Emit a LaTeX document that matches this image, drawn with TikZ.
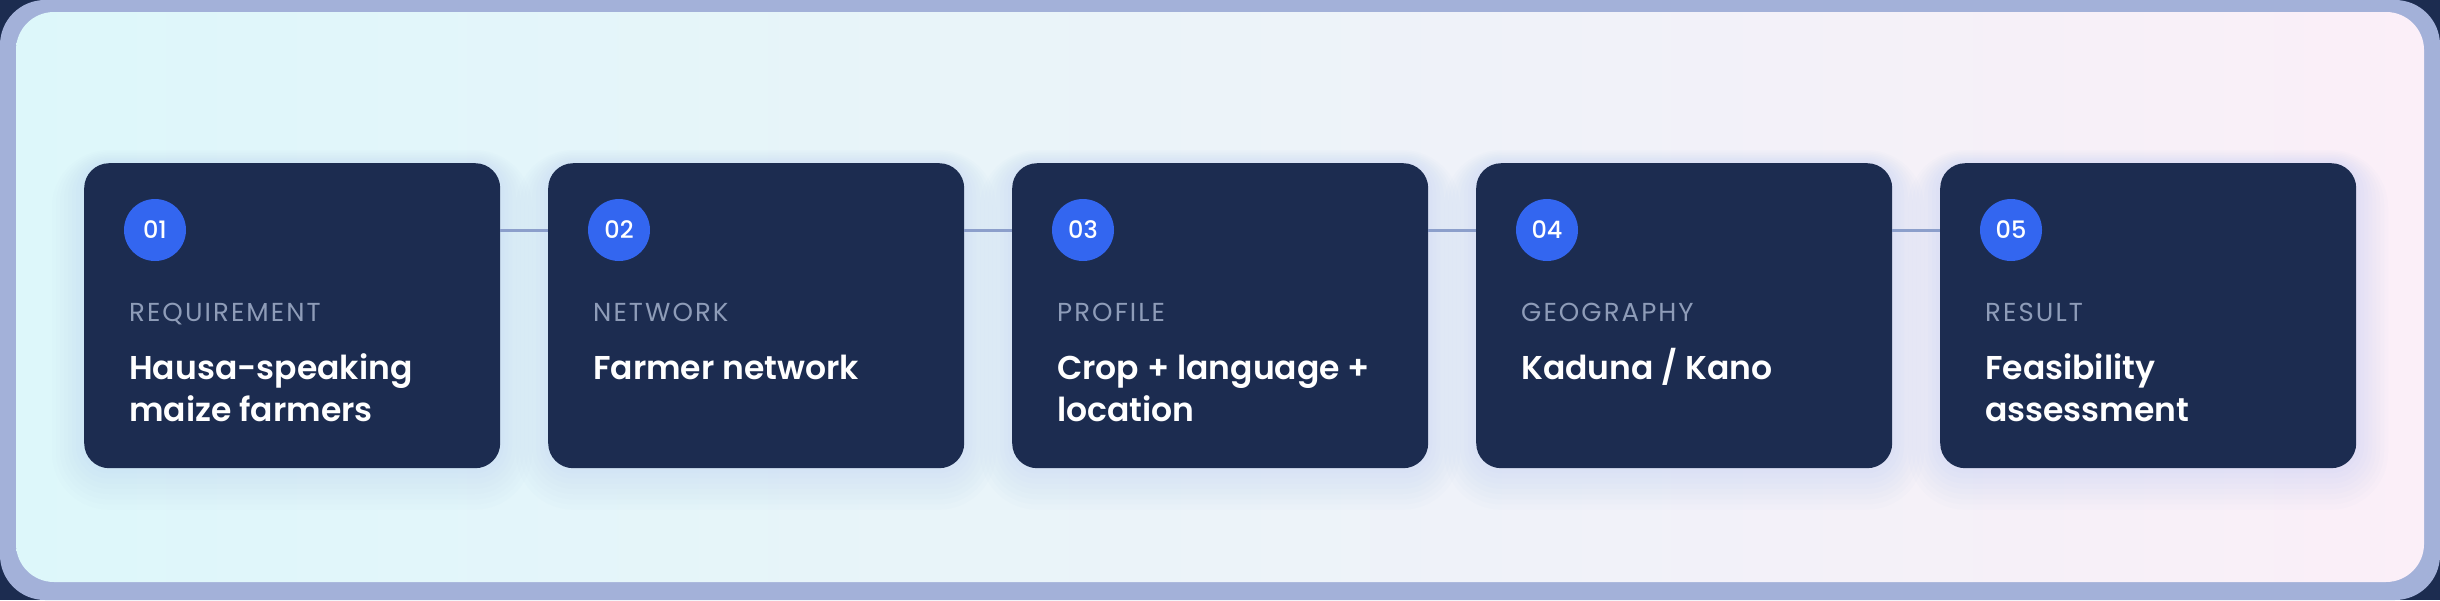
\documentclass[tikz,border=0pt]{standalone}
\usepackage{fontspec}
\setmainfont{Poppins}
\newfontfamily\tagfont[LetterSpace=8]{Poppins}
\newfontfamily\titlefont{Poppins SemiBold}
\newfontfamily\numfont{Poppins Medium}
\definecolor{navy}{HTML}{1C2C50}
\definecolor{frame}{HTML}{A3B1D9}
\definecolor{dot}{HTML}{3366F0}
\definecolor{lbl}{HTML}{8E9CB8}
\definecolor{wirec}{HTML}{8C9FCB}
\definecolor{bgL}{HTML}{DDF7FA}
\definecolor{bgM}{HTML}{F8FAFE}
\definecolor{bgR}{HTML}{FBEFF8}
\definecolor{glowc}{HTML}{A9C2F5}
\tikzset{
  card/.style={fill=navy, rounded corners=25pt, minimum width=416pt, minimum height=305pt, inner sep=0pt, anchor=north west},
  badge/.style={circle, fill=dot, minimum size=62pt, inner sep=0pt, text=white, font=\numfont\fontsize{24}{24}\selectfont},
  tag/.style={anchor=base west, text=lbl, font=\tagfont\fontsize{26}{26}\selectfont, inner sep=0pt},
  title/.style={anchor=base west, text=white, font=\titlefont\fontsize{33}{42}\selectfont, align=left, inner sep=0pt},
  wire/.style={draw=wirec, line width=3pt},
}
\begin{document}
\begin{tikzpicture}[x=1pt,y=-1pt]
\useasboundingbox (0,0) rectangle (2440,600);
\fill[navy] (0,0) rectangle (2440,600);
\fill[frame, rounded corners=45pt] (0,0) rectangle (2440,600);
\shade[rounded corners=38pt, left color=bgL, middle color=bgM, right color=bgR] (16,12) rectangle (2424,582);
% glows
\foreach \i in {0,...,4}{
  \pgfmathsetmacro{\xa}{84+464*\i}
  \foreach \g in {4,8,12,16,20,24,28,32}{
    \fill[glowc, opacity=0.035, rounded corners=25pt+\g] (\xa-\g,163-\g*0.4) rectangle (\xa+416+\g,468+\g*1.3);
  }
}
% cards
\node[card] (c1) at (84,163) {};
\node[card] (c2) at (548,163) {};
\node[card] (c3) at (1012,163) {};
\node[card] (c4) at (1476,163) {};
\node[card] (c5) at (1940,163) {};
% badges
\node[badge] (b1) at (155,230) {01};
\node[badge] (b2) at (619,230) {02};
\node[badge] (b3) at (1083,230) {03};
\node[badge] (b4) at (1547,230) {04};
\node[badge] (b5) at (2011,230) {05};
% connectors
\draw[wire] (c1.east |- b1.center) -- (c2.west |- b2.center);
\draw[wire] (c2.east |- b2.center) -- (c3.west |- b3.center);
\draw[wire] (c3.east |- b3.center) -- (c4.west |- b4.center);
\draw[wire] (c4.east |- b4.center) -- (c5.west |- b5.center);
% tags
\node[tag] (t1) at (129,321) {REQUIREMENT};
\node[tag] (t2) at (593,321) {NETWORK};
\node[tag] (t3) at (1057,321) {PROFILE};
\node[tag] (t4) at (1521,321) {GEOGRAPHY};
\node[tag] (t5) at (1985,321) {RESULT};
% titles (base = last line)
\node[title] (h1) at (129,421) {Hausa-speaking\\maize farmers};
\node[title] (h2) at (593,379) {Farmer network};
\node[title] (h3) at (1057,421) {Crop + language +\\location};
\node[title] (h4) at (1521,379) {Kaduna / Kano};
\node[title] (h5) at (1985,421) {Feasibility\\assessment};
\end{tikzpicture}
\end{document}
